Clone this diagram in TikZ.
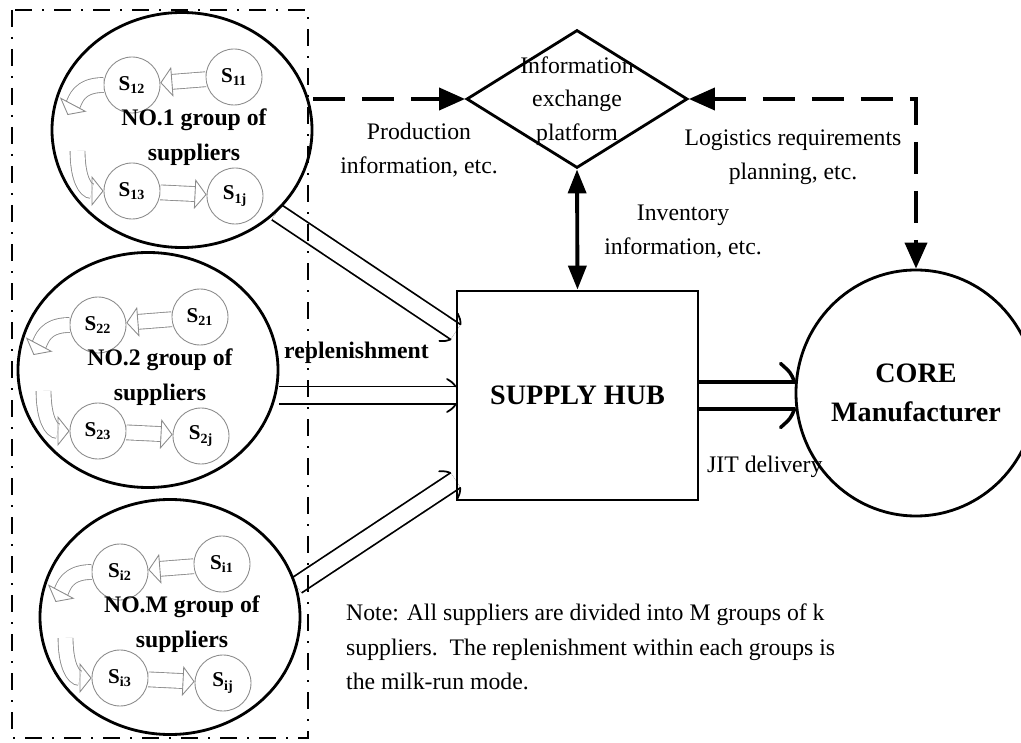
\documentclass[tikz,border=0pt]{standalone}
\usepackage{fontspec}
\setmainfont{Liberation Serif}
\usetikzlibrary{arrows.meta,shapes.geometric,calc,decorations.markings}
\pgfdeclarelayer{background}
\pgfsetlayers{background,main}

\begin{document}
\begin{tikzpicture}[x=0.2mm,y=-0.2mm,
    group/.style={ellipse, draw, line width=1.6pt, minimum width=52mm, minimum height=47mm, inner sep=0pt},
    supplier/.style={circle, draw=black!45, line width=0.5pt, minimum size=11.2mm, inner sep=0pt, font=\fontsize{12}{12}\selectfont\bfseries},
    grouptext/.style={align=center, font=\fontsize{13.5}{19.8}\selectfont\bfseries},
    info/.style={align=center, font=\fontsize{13.5}{19.3}\selectfont},
    hub/.style={draw, line width=1.6pt, minimum width=48.2mm, minimum height=41.8mm, font=\fontsize{16}{20}\selectfont\bfseries},
    platform/.style={diamond, draw, line width=1.6pt, minimum width=44.2mm, minimum height=27.6mm, inner sep=0pt},
    core/.style={ellipse, draw, line width=1.6pt, minimum width=42.4mm, minimum height=49.2mm, inner sep=0pt, align=center, font=\fontsize{16}{22}\selectfont\bfseries},
    infoflow/.style={line width=2.2pt, dash pattern=on 6.4mm off 3.4mm},
    supplyflow/.style={double, line width=1pt, double distance=3.2mm,
      decoration={markings, mark=at position 1 with {\draw[line width=1pt, line cap=round] (-1.7mm,3.3mm) .. controls (-0.6mm,2.6mm) .. (0,1.8mm) (-1.7mm,-3.3mm) .. controls (-0.6mm,-2.6mm) .. (0,-1.8mm);}},
      postaction={decorate}},
    jitflow/.style={double, line width=2pt, double distance=4.6mm,
      decoration={markings, mark=at position 1 with {\draw[line width=2pt, line cap=round] (-2.8mm,6.4mm) .. controls (-0.8mm,4.6mm) .. (0,2.7mm) (-2.8mm,-6.4mm) .. controls (-0.8mm,-4.6mm) .. (0,-2.7mm);}},
      postaction={decorate}},
    milkrun/.style={draw=black!45, double=white, line width=0.5pt, double distance=2.8mm, -{Triangle[open, length=2.4mm 0 0, width=6mm 0 0]}}]
  \useasboundingbox (0,0) rectangle (1021,743);

  % the supplier groups
  \draw[line width=1.1pt, dash pattern=on 3.4mm off 2mm on 0.4mm off 2mm] (12,10) rectangle (308,738);
  \foreach \n/\cx/\cy/\no/\i in {g1/182/130/1/1, g2/148/370/2/2, gM/170/617/M/i} {
    \node[group] (\n) at (\cx,\cy) {};
    \node[supplier] (\n s1) at (\cx+52,\cy-53) {S\textsubscript{\i1}};
    \node[supplier] (\n s2) at (\cx-50,\cy-45) {S\textsubscript{\i2}};
    \node[supplier] (\n s3) at (\cx-50,\cy+61) {S\textsubscript{\i3}};
    \node[supplier] (\n sj) at (\cx+53,\cy+66) {S\textsubscript{\i j}};
    \node[grouptext] at (\cx+12,\cy+7) {NO.\no{} group of\\suppliers};
    \draw[milkrun] (\n s1) -- (\n s2);
    \draw[milkrun] (\n s2.west) .. controls +(-25,0) and +(8,-15) .. ($(\n s2.west)+(-36,30)$);
    \draw[milkrun] ($(\n s3.west)+(-26,-40)$) .. controls +(0,28) and +(-18,0) .. (\n s3.west);
    \draw[milkrun] (\n s3) -- (\n sj);
  }

  % hub, platform and manufacturer
  \node[hub] (hub) at (577.5,395.5) {SUPPLY HUB};
  \node[platform] (plat) at (577,99) {};
  \node[info, font=\fontsize{13.5}{19}\selectfont] (plattext) at (577,101) {Information\\exchange\\platform};
  \node[core] (core) at (916,393) {CORE\\Manufacturer};

  \coordinate (in1) at ($(hub.north west)!0.2!(hub.south west)$);
  \coordinate (in3) at ($(hub.north west)!0.9!(hub.south west)$);

  \begin{pgfonlayer}{background}
    \draw[supplyflow] (g1.-41.5) -- (in1);
    \draw[supplyflow] (hub.west -| g2.east) -- (hub.west);
    \draw[supplyflow] (gM.14) -- (in3);
    \draw[jitflow] (hub.east) -- (hub.east -| core.west);
  \end{pgfonlayer}

  \draw[infoflow, -{Triangle[length=5.2mm,width=4.4mm]}] (plat.west -| g1.east) -- (plat.west);
  \draw[infoflow, {Triangle[length=5.2mm,width=4.4mm]}-{Triangle[length=5.2mm,width=4.4mm]}] (plat.east) -| (core.north);
  \draw[line width=2.2pt, {Triangle[length=4.8mm,width=3.6mm]}-{Triangle[length=4.8mm,width=3.6mm]}] (plat.south) -- (hub.north);

  % labels
  \node[info] (prodinfo) at (419,150) {Production\\information, etc.};
  \node[info] (logi) at (793,157) {Logistics requirements\\planning, etc.};
  \node[info] (invinfo) at (683,232) {Inventory\\information, etc.};
  \node[info, anchor=west] (jit) at (701,467) {JIT delivery};
  \node[info, font=\fontsize{13.5}{19}\selectfont\bfseries, anchor=west] (repl) at (278,353) {replenishment};
  \node[info, align=left, anchor=north west, font=\fontsize{13.5}{19.6}\selectfont] (note) at (340,598) {Note: All suppliers are divided into M groups of k\\suppliers.\ \ The replenishment within each groups is\\the milk-run mode.};
\end{tikzpicture}
\end{document}
